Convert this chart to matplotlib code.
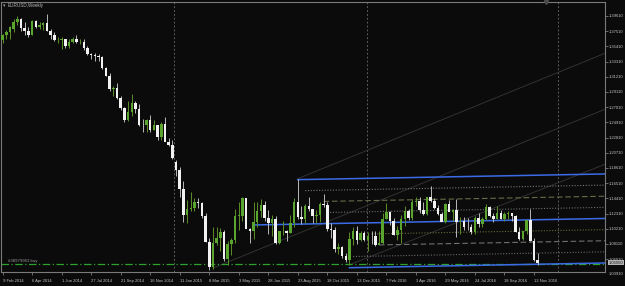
import matplotlib
matplotlib.use("Agg")
import matplotlib.pyplot as plt
import matplotlib.transforms as mtransforms

# weekly EURUSD candles, 9 Feb 2014 .. 20 Nov 2016
opens = [1.3636, 1.3693, 1.3740, 1.3780, 1.3875, 1.3913, 1.3790, 1.3750, 1.3705, 1.3885,
         1.3815, 1.3830, 1.3870, 1.3755, 1.3695, 1.3630, 1.3635, 1.3643, 1.3545, 1.3605,
         1.3645, 1.3595, 1.3605, 1.3525, 1.3430, 1.3420, 1.3410, 1.3400, 1.3240, 1.3130,
         1.2950, 1.2965, 1.2830, 1.2685, 1.2525, 1.2630, 1.2760, 1.2670, 1.2455, 1.2450,
         1.2525, 1.2390, 1.2450, 1.2285, 1.2465, 1.2225, 1.2185, 1.1950, 1.1840, 1.1565,
         1.1205, 1.1290, 1.1315, 1.1385, 1.1380, 1.1195, 1.0840, 1.0495, 1.0820, 1.0890,
         1.0970, 1.0600, 1.0805, 1.0870, 1.1200, 1.1200, 1.1445, 1.1015, 1.0985, 1.1115,
         1.1265, 1.1350, 1.1165, 1.1105, 1.1160, 1.0830, 1.0985, 1.0985, 1.0965, 1.1105,
         1.1385, 1.1180, 1.1150, 1.1340, 1.1290, 1.1195, 1.1210, 1.1360, 1.1350, 1.1015,
         1.1005, 1.0740, 1.0770, 1.0645, 1.0590, 1.0885, 1.0990, 1.0865, 1.0965, 1.0860,
         1.0925, 1.0915, 1.0795, 1.0830, 1.1155, 1.1255, 1.1130, 1.0935, 1.1005, 1.1150,
         1.1270, 1.1165, 1.1390, 1.1400, 1.1285, 1.1225, 1.1455, 1.1400, 1.1310, 1.1220,
         1.1115, 1.1365, 1.1250, 1.1280, 1.1115, 1.1135, 1.1050, 1.1040, 1.0975, 1.1175,
         1.1085, 1.1160, 1.1325, 1.1200, 1.1155, 1.1235, 1.1155, 1.1225, 1.1240, 1.1200,
         1.0970, 1.0885, 1.0985, 1.1140, 1.0850, 1.0590]
highs = [1.3717, 1.3773, 1.3825, 1.3915, 1.3967, 1.3935, 1.3877, 1.3810, 1.3905, 1.3906,
         1.3875, 1.3883, 1.3993, 1.3775, 1.3735, 1.3665, 1.3677, 1.3650, 1.3645, 1.3677,
         1.3700, 1.3650, 1.3640, 1.3540, 1.3445, 1.3445, 1.3433, 1.3415, 1.3250, 1.3175,
         1.2995, 1.3030, 1.2860, 1.2705, 1.2790, 1.2887, 1.2790, 1.2750, 1.2535, 1.2535,
         1.2600, 1.2530, 1.2455, 1.2500, 1.2570, 1.2275, 1.2250, 1.1970, 1.1870, 1.1680,
         1.1423, 1.1535, 1.1445, 1.1450, 1.1390, 1.1240, 1.0890, 1.1045, 1.1052, 1.1035,
         1.1000, 1.0850, 1.0890, 1.1290, 1.1390, 1.1465, 1.1445, 1.1035, 1.1385, 1.1385,
         1.1436, 1.1410, 1.1280, 1.1215, 1.1200, 1.0990, 1.1130, 1.1010, 1.1215, 1.1440,
         1.1714, 1.1330, 1.1370, 1.1460, 1.1300, 1.1285, 1.1390, 1.1495, 1.1385, 1.1095,
         1.1045, 1.0830, 1.0780, 1.0690, 1.0980, 1.1045, 1.1060, 1.0990, 1.0990, 1.0970,
         1.0990, 1.0990, 1.0985, 1.1245, 1.1375, 1.1265, 1.1165, 1.1055, 1.1215, 1.1340,
         1.1300, 1.1435, 1.1465, 1.1465, 1.1395, 1.1460, 1.1616, 1.1445, 1.1350, 1.1250,
         1.1375, 1.1415, 1.1300, 1.1427, 1.1185, 1.1185, 1.1165, 1.1085, 1.1195, 1.1235,
         1.1185, 1.1365, 1.1340, 1.1240, 1.1330, 1.1285, 1.1255, 1.1260, 1.1245, 1.1205,
         1.1040, 1.0990, 1.1145, 1.1300, 1.0895, 1.0690]
lows = [1.3583, 1.3642, 1.3642, 1.3736, 1.3836, 1.3750, 1.3705, 1.3672, 1.3700, 1.3790,
        1.3783, 1.3773, 1.3750, 1.3648, 1.3615, 1.3586, 1.3503, 1.3525, 1.3522, 1.3590,
        1.3590, 1.3573, 1.3490, 1.3420, 1.3366, 1.3333, 1.3345, 1.3235, 1.3133, 1.2920,
        1.2860, 1.2815, 1.2665, 1.2500, 1.2505, 1.2585, 1.2615, 1.2440, 1.2357, 1.2360,
        1.2360, 1.2385, 1.2245, 1.2247, 1.2245, 1.2165, 1.1985, 1.1755, 1.1460, 1.1115,
        1.1098, 1.1260, 1.1270, 1.1315, 1.1175, 1.0840, 1.0458, 1.0460, 1.0800, 1.0710,
        1.0570, 1.0520, 1.0660, 1.0820, 1.1000, 1.1135, 1.1060, 1.0820, 1.0885, 1.1050,
        1.1190, 1.1130, 1.0955, 1.0915, 1.0810, 1.0805, 1.0930, 1.0850, 1.0960, 1.1050,
        1.1155, 1.1085, 1.1100, 1.1270, 1.1105, 1.1105, 1.1120, 1.1325, 1.0995, 1.0895,
        1.0705, 1.0675, 1.0620, 1.0560, 1.0524, 1.0800, 1.0805, 1.0850, 1.0850, 1.0710,
        1.0805, 1.0780, 1.0810, 1.0810, 1.1155, 1.1070, 1.0930, 1.0860, 1.0820, 1.1055,
        1.1145, 1.1145, 1.1330, 1.1235, 1.1215, 1.1215, 1.1385, 1.1300, 1.1215, 1.1130,
        1.1100, 1.1300, 1.1130, 1.0912, 1.0955, 1.1000, 1.1000, 1.0950, 1.0950, 1.1045,
        1.1045, 1.1145, 1.1190, 1.1120, 1.1150, 1.1150, 1.1125, 1.1160, 1.1125, 1.0970,
        1.0860, 1.0860, 1.0950, 1.0850, 1.0570, 1.0520]
closes = [1.3693, 1.3740, 1.3803, 1.3875, 1.3913, 1.3790, 1.3750, 1.3705, 1.3885, 1.3815,
          1.3830, 1.3870, 1.3755, 1.3695, 1.3630, 1.3635, 1.3643, 1.3545, 1.3605, 1.3645,
          1.3595, 1.3605, 1.3525, 1.3430, 1.3420, 1.3410, 1.3400, 1.3240, 1.3130, 1.2950,
          1.2965, 1.2830, 1.2685, 1.2525, 1.2630, 1.2760, 1.2670, 1.2455, 1.2450, 1.2525,
          1.2390, 1.2450, 1.2285, 1.2465, 1.2225, 1.2185, 1.2000, 1.1840, 1.1565, 1.1205,
          1.1290, 1.1315, 1.1385, 1.1380, 1.1195, 1.0840, 1.0495, 1.0820, 1.0890, 1.0970,
          1.0600, 1.0805, 1.0870, 1.1200, 1.1200, 1.1445, 1.1015, 1.0985, 1.1115, 1.1265,
          1.1350, 1.1165, 1.1105, 1.1160, 1.0830, 1.0985, 1.0985, 1.0965, 1.1105, 1.1385,
          1.1180, 1.1150, 1.1340, 1.1290, 1.1195, 1.1210, 1.1360, 1.1350, 1.1015, 1.1005,
          1.0740, 1.0770, 1.0645, 1.0590, 1.0885, 1.0990, 1.0865, 1.0965, 1.0860, 1.0925,
          1.0915, 1.0795, 1.0830, 1.1155, 1.1255, 1.1130, 1.0935, 1.1005, 1.1150, 1.1270,
          1.1165, 1.1390, 1.1400, 1.1285, 1.1225, 1.1455, 1.1400, 1.1310, 1.1220, 1.1115,
          1.1365, 1.1250, 1.1280, 1.1115, 1.1135, 1.1050, 1.1040, 1.0975, 1.1175, 1.1085,
          1.1160, 1.1325, 1.1200, 1.1155, 1.1235, 1.1155, 1.1225, 1.1240, 1.1200, 1.0970,
          1.0885, 1.0985, 1.1140, 1.0850, 1.0590, 1.0555]

date_ticks = list(range(0, 145, 8))
date_labels = ["9 Feb 2014", "6 Apr 2014", "1 Jun 2014", "27 Jul 2014", "21 Sep 2014",
               "16 Nov 2014", "11 Jan 2015", "8 Mar 2015", "3 May 2015", "28 Jun 2015",
               "23 Aug 2015", "18 Oct 2015", "13 Dec 2015", "7 Feb 2016", "3 Apr 2016",
               "29 May 2016", "24 Jul 2016", "18 Sep 2016", "13 Nov 2016"]
price_ticks = [1.3961, 1.3751, 1.3541, 1.3331, 1.3121, 1.2911, 1.2701, 1.2491, 1.2281,
               1.2071, 1.1861, 1.1651, 1.1441, 1.1231, 1.1021, 1.0811, 1.0601]
price_bottom_label = 1.0391

# objects drawn on the chart
year_lines = [46.45, 98.75, 150.5]
chan_top_start = (80, 1.1700)
chan_slope = 0.0000945
chan_gap = 0.0615
chan_starts = [80, 68, 94]          # top, middle, bottom blue line
quarter_starts = [82, 87, 88, 100, 102, 95]
trend_lines = [((80, 1.1714), (163.25, 1.3446)),
               ((57, 1.0479), (163.25, 1.2672)),
               ((94, 1.0524), (163.25, 1.1912))]
order_price = 1.0535
order_text = "#38979963 buy"
bid_price = 1.0555

plt.rcParams["font.family"] = ["Liberation Sans", "DejaVu Sans"]

BG = "#0b0b0b"
W, H = 625, 286
XMAX = 163.25
FS = 3.0

fig = plt.figure(figsize=(W / 100, H / 100), dpi=100, facecolor=BG)
ax = fig.add_axes([1.5 / W, 1 - 272 / H, (605 - 1.5) / W, (272 - 1.5) / H])
ax.set_facecolor(BG)
ax.set_xlim(-0.3, XMAX)
ax.set_ylim(1.04241, 1.41613)

# year separators
for xv in year_lines:
    ax.axvline(xv, color="#5c5c5c", lw=0.7, ls=(0, (2, 2)), zorder=1)

# gray trend lines
for (x0, y0), (x1, y1) in trend_lines:
    ax.plot([x0, x1], [y0, y1], color="#323232", lw=0.7, zorder=1)

# channel with quarter levels
def chan(x, k):
    return chan_top_start[1] + chan_slope * (x - chan_top_start[0]) - k * chan_gap

for k, s in enumerate(chan_starts):
    ax.plot([s, XMAX], [chan(s, k), chan(XMAX, k)], color="#3b6be6", lw=1.1, zorder=3)

q_fracs = [0.25, 0.5, 0.75, 1.25, 1.5, 1.75]
q_styles = [(0, (1, 1.5)), (0, (5, 2.5)), (0, (1, 1.5)), (0, (1, 1.5)), (0, (5, 2.5)), (0, (1, 1.5))]
q_colors = ["#767676", "#6a6a48", "#6e6e6e", "#6a6a3a", "#707070", "#686868"]
for f, s, ls, c in zip(q_fracs, quarter_starts, q_styles, q_colors):
    ax.plot([s, XMAX], [chan(s, f), chan(XMAX, f)], color=c, lw=0.8, ls=ls, zorder=1)

# order line
ax.axhline(order_price, color="#2fa12f", lw=0.9, ls=(0, (6, 2, 1, 2)), zorder=2)
ax.text(1.5, order_price + 0.0012, order_text, color="#9a9a9a", fontsize=3.1,
        va="bottom", ha="left", zorder=4)

# candles
up_body, up_wick = "#5aa52e", "#5b8f26"
dn_body, dn_wick = "#f2f2f2", "#b8b8b8"
for i, (o, h, l, c) in enumerate(zip(opens, highs, lows, closes)):
    up = c >= o
    ax.vlines(i, l, h, color=up_wick if up else dn_wick, lw=0.7, zorder=5)
    lo, hi = min(o, c), max(o, c)
    ax.bar(i, max(hi - lo, 0.0005), bottom=lo, width=0.68,
           color=up_body if up else dn_body, lw=0, zorder=6)

# axes styling
for sp in ax.spines.values():
    sp.set_color("#7a7a7a")
    sp.set_linewidth(0.8)

ax.yaxis.tick_right()
ax.set_yticks(price_ticks)
ax.set_yticklabels(["%.5f" % p for p in price_ticks])
ax.tick_params(axis="y", colors="#7a7a7a", labelcolor="#c4c4c4", labelsize=FS,
               length=2, width=0.6, pad=1)
ax.set_xticks(date_ticks)
ax.set_xticklabels(date_labels)
ax.tick_params(axis="x", colors="#7a7a7a", labelcolor="#c4c4c4", labelsize=FS,
               length=2, width=0.6, pad=3)
for lbl in ax.get_xticklabels():
    lbl.set_ha("left")

trans = mtransforms.blended_transform_factory(ax.transAxes, ax.transData)
ax.text(1.0 + 4 / 603, price_bottom_label, "%.5f" % price_bottom_label, transform=trans,
        color="#c4c4c4", fontsize=FS, va="center", ha="left", clip_on=False)
ax.text(1.0 + 4 / 603, bid_price, "%.5f" % bid_price, transform=trans,
        color="#101010", fontsize=FS, va="center", ha="left", clip_on=False,
        bbox=dict(boxstyle="square,pad=0.15", fc="#b4b4b4", ec="none"))

# title and shift marker
fig.text(4 / W, 1 - 6 / H, "\u25BE", color="#a0a0a0", fontsize=3.5, va="center", ha="center",
         family="DejaVu Sans")
fig.text(8 / W, 1 - 6 / H, "EURUSD,Weekly", color="#b4b4b4", fontsize=3.3, va="center", ha="left")
ax.plot([543.5 / 603 * XMAX], [1.41613], marker="v", ms=3, color="#4a4a4a",
        clip_on=False, zorder=7)

fig.savefig("out.png", dpi=100, facecolor=BG)
